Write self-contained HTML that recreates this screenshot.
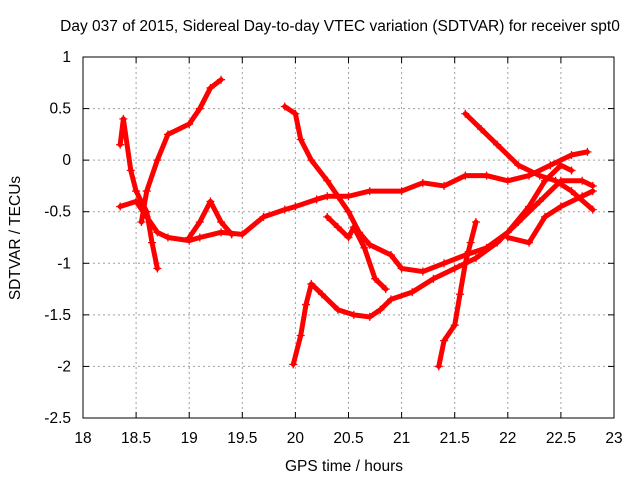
<!DOCTYPE html>
<html><head><meta charset="utf-8"><style>
body{margin:0;background:#fff;font-family:"Liberation Sans",sans-serif}
svg text{font-family:"Liberation Sans",sans-serif;font-size:15.5px;fill:#000}
</style></head><body>
<svg id="chart" width="640" height="480" viewBox="0 0 640 480" xmlns="http://www.w3.org/2000/svg">
<text x="340" y="31" text-anchor="middle">Day 037 of 2015, Sidereal Day-to-day VTEC variation (SDTVAR) for receiver spt0</text>
<text x="344" y="471" text-anchor="middle">GPS time / hours</text>
<text transform="translate(20,238) rotate(-90)" text-anchor="middle">SDTVAR / TECUs</text>
<g id="grid"></g>
<g id="ticks"></g>
<g id="series"></g>
<rect x="83" y="57" width="531" height="361" fill="none" stroke="#000" stroke-width="1"/>
</svg>
<script>
const xTicks=[18,18.5,19,19.5,20,20.5,21,21.5,22,22.5,23];
const xTickLabels=["18","18.5","19","19.5","20","20.5","21","21.5","22","22.5","23"];
const yTicks=[1,0.5,0,-0.5,-1,-1.5,-2,-2.5];
const yTickLabels=["1","0.5","0","-0.5","-1","-1.5","-2","-2.5"];
const sA_x=[18.35,18.5,18.6,18.7,18.8,19.0,19.1,19.3,19.5,19.7,19.9,20.0,20.2,20.3,20.5,20.7,21.0,21.2,21.4,21.6,21.8,22.0,22.2,22.4,22.6,22.75];
const sA_y=[-0.45,-0.4,-0.55,-0.7,-0.75,-0.78,-0.75,-0.7,-0.72,-0.55,-0.48,-0.45,-0.38,-0.35,-0.35,-0.3,-0.3,-0.22,-0.25,-0.15,-0.15,-0.2,-0.15,-0.05,0.05,0.08];
const sB_x=[19.0,19.1,19.2,19.3,19.4];
const sB_y=[-0.75,-0.6,-0.4,-0.6,-0.72];
const sC_x=[18.55,18.6,18.7,18.8,19.0,19.1,19.2,19.3];
const sC_y=[-0.6,-0.3,0.0,0.25,0.35,0.5,0.7,0.78];
const sD_x=[18.35,18.38,18.45,18.5,18.6,18.65,18.7];
const sD_y=[0.15,0.4,-0.1,-0.3,-0.5,-0.8,-1.05];
const sE_x=[19.9,20.0,20.05,20.15,20.3,20.4,20.5,20.6,20.7,20.9,21.0,21.2,21.4,21.6,21.8,22.0,22.2,22.35,22.5,22.6];
const sE_y=[0.52,0.45,0.2,0.0,-0.2,-0.35,-0.5,-0.7,-0.82,-0.92,-1.05,-1.08,-1.0,-0.92,-0.85,-0.7,-0.45,-0.2,-0.05,-0.1];
const sF_x=[19.98,20.05,20.1,20.15,20.25,20.4,20.55,20.7,20.8,20.9,21.1,21.3,21.5,21.7,21.9,22.1,22.3,22.5,22.7,22.8];
const sF_y=[-1.98,-1.7,-1.4,-1.2,-1.3,-1.45,-1.5,-1.52,-1.45,-1.35,-1.28,-1.15,-1.05,-0.95,-0.8,-0.6,-0.4,-0.2,-0.2,-0.25];
const sG_x=[21.35,21.4,21.5,21.55,21.6,21.65,21.7];
const sG_y=[-2.0,-1.75,-1.6,-1.3,-1.0,-0.8,-0.6];
const sH_x=[21.6,21.75,21.9,22.1,22.3,22.45,22.6,22.8];
const sH_y=[0.45,0.3,0.15,-0.05,-0.15,-0.2,-0.3,-0.48];
const sI_x=[22.0,22.2,22.35,22.5,22.7,22.8];
const sI_y=[-0.75,-0.8,-0.55,-0.45,-0.35,-0.3];
const sJ_x=[20.3,20.4,20.5,20.55,20.65,20.75,20.85];
const sJ_y=[-0.55,-0.65,-0.75,-0.65,-0.85,-1.15,-1.25];
const seriesX=[sA_x,sB_x,sC_x,sD_x,sE_x,sF_x,sG_x,sH_x,sI_x,sJ_x];
const seriesY=[sA_y,sB_y,sC_y,sD_y,sE_y,sF_y,sG_y,sH_y,sI_y,sJ_y];

const X0=83,X1=614,Y0=418,Y1=57;
function sx(v){return X0+(v-18)/5*(X1-X0);}
function sy(v){return Y0-(v+2.5)/3.5*(Y0-Y1);}
const NS="http://www.w3.org/2000/svg";
function mk(tag,attrs,parent){const e=document.createElementNS(NS,tag);for(const k in attrs)e.setAttribute(k,attrs[k]);parent.appendChild(e);return e;}
const grid=document.getElementById('grid'),ticks=document.getElementById('ticks'),ser=document.getElementById('series');
xTicks.forEach((t,i)=>{
  const x=sx(t);
  if(i>0&&i<xTicks.length-1){const g=mk('line',{x1:x,x2:x,y1:Y1,y2:Y0,stroke:'#a0a0a0','stroke-dasharray':'2,3'},grid);
  
  }
  mk('line',{x1:x,x2:x,y1:Y0,y2:Y0-6,stroke:'#000'},ticks);
  mk('line',{x1:x,x2:x,y1:Y1,y2:Y1+6,stroke:'#000'},ticks);
  const tx=mk('text',{x:x,y:Y0+25,'text-anchor':'middle'},ticks);tx.textContent=xTickLabels[i];
  
  
});
yTicks.forEach((t,i)=>{
  const y=sy(t);
  if(i>0&&i<yTicks.length-1){const g=mk('line',{x1:X0,x2:X1,y1:y,y2:y,stroke:'#a0a0a0','stroke-dasharray':'2,3'},grid);
  
  }
  mk('line',{x1:X0,x2:X0+6,y1:y,y2:y,stroke:'#000'},ticks);
  mk('line',{x1:X1,x2:X1-6,y1:y,y2:y,stroke:'#000'},ticks);
  const tx=mk('text',{x:X0-12,y:y+5,'text-anchor':'end'},ticks);tx.textContent=yTickLabels[i];
  
  
});
seriesX.forEach((xs,si)=>{
  const ys=seriesY[si];
  const pts=xs.map((v,j)=>sx(v)+','+sy(ys[j])).join(' ');
  const pl=mk('polyline',{points:pts,fill:'none',stroke:'#f00','stroke-width':5,'stroke-linejoin':'round','stroke-linecap':'round'},ser);
  
  
  xs.forEach((v,j)=>{
    const cx=sx(v),cy=sy(ys[j]);
    const p=mk('path',{d:`M${cx-4},${cy}H${cx+4}M${cx},${cy-4}V${cy+4}`,stroke:'#f00','stroke-width':1.3},ser);
    
    
  });
});
</script>
</body></html>
